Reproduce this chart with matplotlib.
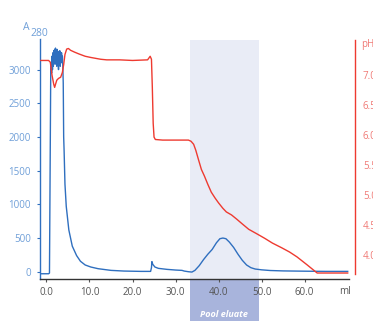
import matplotlib
matplotlib.use("Agg")
import matplotlib.pyplot as plt
from matplotlib.patches import Rectangle
import matplotlib.transforms as mtransforms

plt.rcParams['font.family'] = ['Open Sans', 'DejaVu Sans']

# A280 trace (mAU) vs volume (ml)
a280_x = [-1.3, 0.5, 0.7, 0.9, 1.0, 1.1, 1.2, 1.3, 1.4, 1.5, 1.6, 1.7, 1.8, 1.9, 2.0, 2.1, 2.2, 2.3, 2.4,
          2.5, 2.6, 2.7, 2.8, 2.9, 3.0, 3.1, 3.2, 3.3, 3.4, 3.5, 3.6, 3.7, 3.8, 3.9, 4.0, 4.1, 4.3, 4.6,
          5.2, 6.0, 7.0, 7.9, 9.0, 10.3, 12.0, 15.0, 18.0, 22.0, 24.2, 24.4, 24.5, 24.7, 25.2, 26.0,
          28.0, 30.0, 31.5, 32.0, 33.0, 33.8, 34.5, 35.5, 36.5, 37.5, 38.5, 39.5, 40.3, 41.0, 41.7,
          42.5, 43.5, 44.5, 45.5, 46.5, 47.5, 48.5, 50.0, 52.0, 55.0, 60.0, 65.0, 70.0]
a280_y = [-30, -30, -20, 2000, 3050, 3100, 2950, 3200, 3000, 3250, 3050, 3280, 3100, 3300, 3080, 3320,
          3150, 3250, 3050, 3300, 3100, 3230, 3000, 3270, 3120, 3280, 3050, 3200, 3100, 3250, 3150,
          3200, 3050, 2800, 2000, 1800, 1300, 970, 620, 380, 240, 155, 100, 70, 45, 20, 10, 5, 5, 60,
          150, 110, 70, 50, 35, 25, 20, 10, 0, -5, 20, 90, 180, 260, 330, 430, 490, 500, 490, 440,
          360, 260, 170, 100, 60, 40, 28, 18, 12, 8, 5, 5]

# pH trace vs volume (ml)
ph_x = [-1.3, 0.5, 0.9, 1.3, 1.7, 1.9, 2.1, 2.4, 2.8, 3.3, 3.7, 4.0, 4.3, 4.7, 5.1, 5.6, 6.5, 7.5, 9.0,
        10.3, 12.6, 14.0, 17.0, 20.0, 23.5, 23.9, 24.1, 24.4, 24.6, 24.8, 25.0, 25.3, 27.0, 30.0, 33.0,
        33.6, 34.2, 34.7, 35.3, 36.0, 36.7, 37.5, 38.3, 39.2, 40.0, 41.0, 41.8, 43.0, 44.2, 45.5, 47.0,
        49.0, 50.7, 52.5, 54.7, 56.5, 58.2, 60.5, 62.9, 70.0]
ph_y = [7.25, 7.25, 7.22, 7.0, 6.85, 6.8, 6.85, 6.92, 6.95, 6.97, 7.05, 7.18, 7.35, 7.44, 7.45, 7.42,
        7.39, 7.36, 7.32, 7.3, 7.27, 7.26, 7.26, 7.25, 7.26, 7.3, 7.32, 7.27, 6.8, 6.2, 5.97, 5.93, 5.92,
        5.92, 5.92, 5.9, 5.85, 5.75, 5.6, 5.43, 5.32, 5.18, 5.05, 4.95, 4.87, 4.78, 4.72, 4.67, 4.6,
        4.52, 4.43, 4.35, 4.28, 4.2, 4.12, 4.05, 3.97, 3.84, 3.70, 3.70]

x_ticks = [0, 10, 20, 30, 40, 50, 60]
x_ticklabels = ['0.0', '10.0', '20.0', '30.0', '40.0', '50.0', '60.0']
a_ticks = [0, 500, 1000, 1500, 2000, 2500, 3000]
ph_ticks = [4.0, 4.5, 5.0, 5.5, 6.0, 6.5, 7.0]
ph_ticklabels = ['4.0', '4.5', '5.0', '5.5', '6.0', '6.5', '7.0']
pool_range = (33.4, 49.3)
pool_label = 'Pool eluate'

W, H = 373, 321
fig = plt.figure(figsize=(W / 100, H / 100), dpi=100)
ax = fig.add_axes([40 / W, 1 - 279 / H, (349 - 40) / W, (279 - 39.5) / H])

blue = '#2f6fbf'
blue_lbl = '#6f9fd8'
red = '#ee3a30'
red_lbl = '#f07a76'
grey = '#555555'

ax.axvspan(pool_range[0], pool_range[1], color='#e9ecf6', lw=0, zorder=0)
trans = mtransforms.blended_transform_factory(ax.transData, ax.transAxes)
ax.add_patch(Rectangle((pool_range[0], -0.2), pool_range[1] - pool_range[0], 0.2,
                       transform=trans, clip_on=False, facecolor='#a8b4dc', lw=0))
ax.text((pool_range[0] + pool_range[1]) / 2, -0.148, pool_label, transform=trans,
        ha='center', va='center', color='white', fontsize=6.5, style='italic', fontweight='bold')

ax.plot(a280_x, a280_y, color=blue, lw=1.0, zorder=3)
ax.set_xlim(-1.5, 70.3)
ax.set_ylim(-108, 3447)
ax.set_xticks(x_ticks)
ax.set_xticklabels(x_ticklabels)
ax.set_yticks(a_ticks)
ax.set_yticklabels([str(t) for t in a_ticks])
ax.tick_params(axis='y', colors=blue, labelcolor=blue_lbl, length=2, width=0.8, labelsize=7, pad=4.5)
ax.tick_params(axis='x', colors=grey, labelcolor=grey, length=2, width=0.8, labelsize=7, pad=4)
ax.spines['top'].set_visible(False)
ax.spines['right'].set_visible(False)
ax.spines['left'].set_color(blue)
ax.spines['bottom'].set_color('#333333')
ax.spines['left'].set_linewidth(1.0)
ax.spines['bottom'].set_linewidth(1.0)

ax2 = ax.twinx()
ax2.plot(ph_x, ph_y, color=red, lw=1.0, zorder=2)
ax2.set_ylim(3.6, 7.6)
ax2.set_yticks(ph_ticks)
ax2.set_yticklabels(ph_ticklabels)
ax2.tick_params(axis='y', colors=red, labelcolor=red_lbl, length=0, labelsize=7, pad=6)
for s in ['top', 'left', 'bottom']:
    ax2.spines[s].set_visible(False)
ax2.spines['right'].set_position(('outward', 4))
ax2.spines['right'].set_bounds(3.68, 7.6)
ax2.spines['right'].set_color(red)
ax2.spines['right'].set_linewidth(1.0)

fig.text(23 / W, 1 - 27 / H, 'A', color=blue_lbl, fontsize=7.5, ha='left', va='center')
fig.text(30 / W, 1 - 33 / H, '280', color=blue_lbl, fontsize=7.5, ha='left', va='center')
fig.text(361 / W, 1 - 44 / H, 'pH', color=red_lbl, fontsize=7, ha='left', va='center')
fig.text(345 / W, 1 - 291.5 / H, 'ml', color=grey, fontsize=7, ha='center', va='center')

fig.savefig('out.png', dpi=100)
